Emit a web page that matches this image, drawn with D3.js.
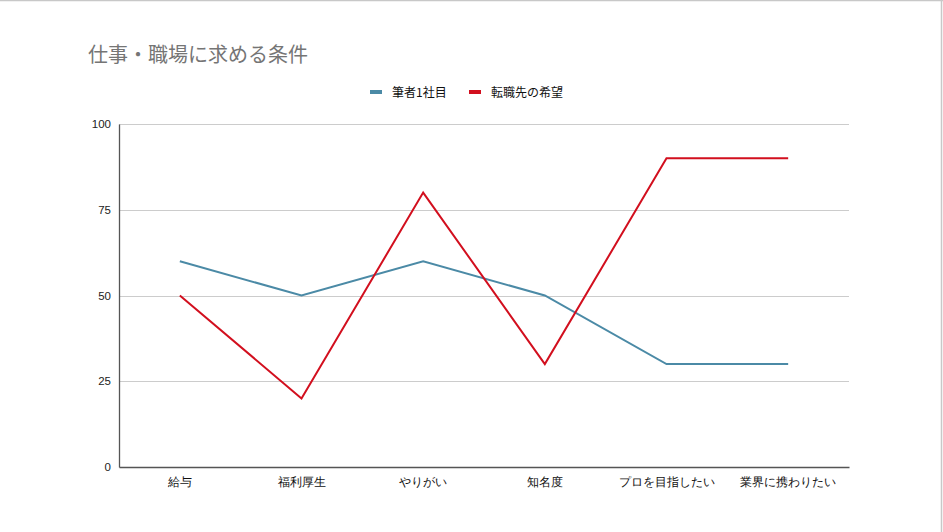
<!DOCTYPE html>
<html><head><meta charset="utf-8">
<script src="https://cdn.jsdelivr.net/npm/d3@7"></script>
<style>body{margin:0;background:#fff;}svg{display:block;font-family:"Noto Sans CJK JP","Liberation Sans",sans-serif;}</style>
</head><body>
<svg id="chart" width="943" height="532"></svg>
<script>
const categories = ["給与","福利厚生","やりがい","知名度","プロを目指したい","業界に携わりたい"];
const seriesNames = ["筆者1社目","転職先の希望"];
const seriesFirst = [60,50,60,50,30,30];
const seriesHope = [50,20,80,30,90,90];
const yTicks = [0,25,50,75,100];
const colors = ["#4b8aa6","#d20f1e"];
const title = "仕事・職場に求める条件";

(function(){
const svg = d3.select("#chart");
// frame
svg.append("line").attr("x1",0).attr("x2",943).attr("y1",0.5).attr("y2",0.5).attr("stroke","#c8c8c8").attr("stroke-width",1.5);
svg.append("line").attr("x1",941.5).attr("x2",941.5).attr("y1",0).attr("y2",532).attr("stroke","#c8c8c8").attr("stroke-width",1.5);

const pLeft=119, pRight=849, pTop=124, pBottom=467;
const x = d3.scaleBand().domain(categories).range([pLeft,pRight]);
const y = d3.scaleLinear().domain([0,100]).range([pBottom,pTop]);

svg.append("text").attr("x",88).attr("y",62).attr("font-size",20).attr("fill","#757575").text(title);

// grid
svg.append("g").selectAll("line").data(yTicks.filter(d=>d>0)).join("line")
  .attr("x1",pLeft).attr("x2",pRight).attr("y1",d=>Math.round(y(d))+0.5).attr("y2",d=>Math.round(y(d))+0.5)
  .attr("stroke","#cccccc").attr("stroke-width",1);

// y axis
const yAxis = svg.append("g").attr("transform",`translate(${pLeft},0)`)
  .call(d3.axisLeft(y).tickValues(yTicks).tickSize(0).tickPadding(8));
yAxis.select(".domain").attr("stroke","#555").attr("stroke-width",1.3);
yAxis.selectAll("text").attr("font-size",11.5).attr("fill","#222").attr("font-family","'Liberation Sans',Arial,sans-serif");

// x axis
const xAxis = svg.append("g").attr("transform",`translate(0,${pBottom})`)
  .call(d3.axisBottom(x).tickSize(0).tickPadding(10));
xAxis.select(".domain").attr("stroke","#555").attr("stroke-width",1.3);
xAxis.selectAll("text").attr("font-size",12).attr("fill","#111");

const line = d3.line().x((d,i)=>x(categories[i])+x.bandwidth()/2).y(d=>y(d));
[seriesFirst,seriesHope].forEach((s,i)=>{
  svg.append("path").datum(s).attr("d",line).attr("fill","none").attr("stroke",colors[i]).attr("stroke-width",2).attr("stroke-linejoin","miter");
});

// legend
const lg = svg.append("g");
const items=[{x:370,name:seriesNames[0],c:colors[0]},{x:469,name:seriesNames[1],c:colors[1]}];
items.forEach(it=>{
  lg.append("rect").attr("x",it.x).attr("y",90).attr("width",12).attr("height",4).attr("fill",it.c);
  lg.append("text").attr("x",it.x+22).attr("y",96.5).attr("font-size",12).attr("fill","#111").text(it.name);
});
})();
</script>
</body></html>
